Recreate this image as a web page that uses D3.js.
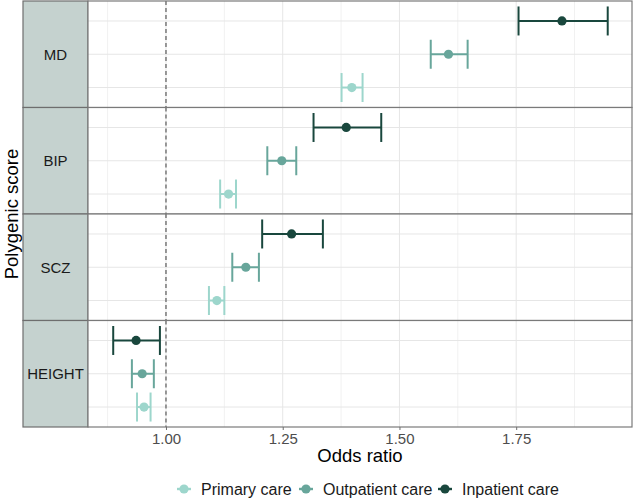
<!DOCTYPE html>
<html>
<head>
<meta charset="utf-8">
<script src="https://cdn.jsdelivr.net/npm/d3@7"></script>
<style>
  body { margin:0; background:white; }
  text { font-family:"Liberation Sans", Arial, sans-serif; }
</style>
</head>
<body>
<svg></svg>
<script>

// polygenic scores (facets, top to bottom)
var scores = ["MD","BIP","SCZ","HEIGHT"];
// care settings, legend order
var careTypes = ["Primary care","Outpatient care","Inpatient care"];

// odds ratios and 95% CI per score
var orPrimary    = [1.398, 1.134, 1.109, 0.953];
var loPrimary    = [1.376, 1.116, 1.092, 0.938];
var hiPrimary    = [1.421, 1.150, 1.125, 0.967];
var orOutpatient = [1.605, 1.248, 1.171, 0.949];
var loOutpatient = [1.567, 1.217, 1.142, 0.927];
var hiOutpatient = [1.646, 1.279, 1.199, 0.974];
var orInpatient  = [1.848, 1.386, 1.269, 0.936];
var loInpatient  = [1.755, 1.316, 1.206, 0.887];
var hiInpatient  = [1.946, 1.461, 1.336, 0.987];

var xTicks = [1.00, 1.25, 1.50, 1.75];
var xMinor = [0.875, 1.125, 1.375, 1.625, 1.875];

var screen = { width:633, height:498 };
var svg = d3.select("svg")
  .attr("width", screen.width)
  .attr("height", screen.height);

var margins = { top:1, left:88, right:1, bottom:71 };
var stripX = 23;

var colors = d3.scaleOrdinal()
  .domain(careTypes)
  .range(["#9dd6cc","#68a69b","#19473d"]);

// build rows from the arrays
var rows = [];
scores.forEach(function(s,i)
{
  rows.push({score:s, care:"Primary care", or:orPrimary[i], lo:loPrimary[i], hi:hiPrimary[i]});
  rows.push({score:s, care:"Outpatient care", or:orOutpatient[i], lo:loOutpatient[i], hi:hiOutpatient[i]});
  rows.push({score:s, care:"Inpatient care", or:orInpatient[i], lo:loInpatient[i], hi:hiInpatient[i]});
});

var xScale = d3.scaleLinear()
  .domain([0.833, 1.998])
  .range([margins.left, screen.width - margins.right]);

var facetScale = d3.scaleBand()
  .domain(scores)
  .range([margins.top, screen.height - margins.bottom]);

// within each panel inpatient is on top
var yScale = d3.scalePoint()
  .domain(["Inpatient care","Outpatient care","Primary care"])
  .range([0, facetScale.bandwidth()])
  .padding(0.6);

var panels = svg.selectAll("g.panel")
  .data(scores)
  .enter()
  .append("g")
  .classed("panel", true)
  .attr("transform", function(d){ return "translate(0,"+facetScale(d)+")"; });

// strips
panels.append("rect")
  .attr("x", stripX)
  .attr("y", 0)
  .attr("width", margins.left - stripX)
  .attr("height", facetScale.bandwidth())
  .attr("fill", "#c5d2cf")
  .attr("stroke", "#6e6e6e")
  .attr("stroke-width", 1.2);

panels.append("text")
  .attr("x", (stripX + margins.left)/2)
  .attr("y", facetScale.bandwidth()/2)
  .attr("dy", "0.35em")
  .attr("text-anchor", "middle")
  .attr("font-size", 15)
  .attr("fill", "#1a1a1a")
  .text(function(d){ return d; });

// panel background
panels.append("rect")
  .attr("x", margins.left)
  .attr("y", 0)
  .attr("width", xScale.range()[1] - margins.left)
  .attr("height", facetScale.bandwidth())
  .attr("fill", "white");

// minor grid
panels.selectAll("line.minor")
  .data(xMinor)
  .enter()
  .append("line")
  .attr("x1", function(d){ return xScale(d); })
  .attr("x2", function(d){ return xScale(d); })
  .attr("y1", 0)
  .attr("y2", facetScale.bandwidth())
  .attr("stroke", "#f1f1f1")
  .attr("stroke-width", 1);

// major grid x
panels.selectAll("line.majorx")
  .data(xTicks)
  .enter()
  .append("line")
  .attr("x1", function(d){ return xScale(d); })
  .attr("x2", function(d){ return xScale(d); })
  .attr("y1", 0)
  .attr("y2", facetScale.bandwidth())
  .attr("stroke", "#e6e6e6")
  .attr("stroke-width", 1);

// major grid y
panels.selectAll("line.majory")
  .data(yScale.domain())
  .enter()
  .append("line")
  .attr("x1", margins.left)
  .attr("x2", xScale.range()[1])
  .attr("y1", function(d){ return yScale(d); })
  .attr("y2", function(d){ return yScale(d); })
  .attr("stroke", "#e6e6e6")
  .attr("stroke-width", 1);

// reference line at OR = 1
panels.append("line")
  .attr("x1", xScale(1))
  .attr("x2", xScale(1))
  .attr("y1", 0)
  .attr("y2", facetScale.bandwidth())
  .attr("stroke", "#4d4d4d")
  .attr("stroke-width", 1.1)
  .attr("stroke-dasharray", "4,3");

// error bars + points
var marks = panels.selectAll("g.mark")
  .data(function(s){ return rows.filter(function(r){ return r.score == s; }); })
  .enter()
  .append("g")
  .classed("mark", true)
  .attr("stroke", function(d){ return colors(d.care); })
  .attr("fill", function(d){ return colors(d.care); });

var capH = 14.5;
marks.append("line")
  .attr("x1", function(d){ return xScale(d.lo); })
  .attr("x2", function(d){ return xScale(d.hi); })
  .attr("y1", function(d){ return yScale(d.care); })
  .attr("y2", function(d){ return yScale(d.care); })
  .attr("stroke-width", 2);
marks.append("line")
  .attr("x1", function(d){ return xScale(d.lo); })
  .attr("x2", function(d){ return xScale(d.lo); })
  .attr("y1", function(d){ return yScale(d.care) - capH; })
  .attr("y2", function(d){ return yScale(d.care) + capH; })
  .attr("stroke-width", 2);
marks.append("line")
  .attr("x1", function(d){ return xScale(d.hi); })
  .attr("x2", function(d){ return xScale(d.hi); })
  .attr("y1", function(d){ return yScale(d.care) - capH; })
  .attr("y2", function(d){ return yScale(d.care) + capH; })
  .attr("stroke-width", 2);
marks.append("circle")
  .attr("cx", function(d){ return xScale(d.or); })
  .attr("cy", function(d){ return yScale(d.care); })
  .attr("r", 4.6)
  .attr("stroke", "none");

// panel border
panels.append("rect")
  .attr("x", margins.left)
  .attr("y", 0)
  .attr("width", xScale.range()[1] - margins.left)
  .attr("height", facetScale.bandwidth())
  .attr("fill", "none")
  .attr("stroke", "#7a7a7a")
  .attr("stroke-width", 1.2);

//axes
var plotBottom = screen.height - margins.bottom;
var xAxis = d3.axisBottom(xScale)
  .tickValues(xTicks)
  .tickFormat(d3.format(".2f"))
  .tickSize(3)
  .tickSizeOuter(0);
var xg = svg.append("g").classed("xAxis", true)
  .attr("transform", "translate(0,"+plotBottom+")")
  .call(xAxis);
xg.select(".domain").remove();
xg.selectAll(".tick line").attr("stroke", "#6e6e6e");
xg.selectAll(".tick text")
  .attr("font-size", 15)
  .attr("fill", "#4d4d4d")
  .attr("font-family", "Liberation Sans, Arial, sans-serif")
  .attr("dy", "0.78em")
  .attr("y", 5);

svg.append("text")
  .attr("x", (margins.left + xScale.range()[1])/2)
  .attr("y", 462)
  .attr("text-anchor", "middle")
  .attr("font-size", 18.5)
  .attr("fill", "black")
  .text("Odds ratio");

svg.append("text")
  .attr("transform", "translate(18,"+((margins.top+plotBottom)/2)+") rotate(-90)")
  .attr("text-anchor", "middle")
  .attr("font-size", 18.5)
  .attr("fill", "black")
  .text("Polygenic score");

// legend
var legendX = [184, 306, 445];
var legend = svg.append("g")
  .classed("legend", true)
  .attr("transform", "translate(0,489)");

var legendLines = legend.selectAll("g")
  .data(careTypes)
  .enter()
  .append("g")
  .attr("transform", function(d,i){ return "translate("+legendX[i]+",0)"; });

legendLines.append("line")
  .attr("x1", -7)
  .attr("x2", 7)
  .attr("y1", 0)
  .attr("y2", 0)
  .attr("stroke", function(d){ return colors(d); })
  .attr("stroke-width", 2.4);
legendLines.append("circle")
  .attr("r", 4.6)
  .attr("fill", function(d){ return colors(d); });
legendLines.append("text")
  .attr("x", 17)
  .attr("y", 0)
  .attr("dy", "0.35em")
  .attr("font-size", 16)
  .attr("fill", "#1a1a1a")
  .text(function(d){ return d; });

</script>
</body>
</html>
